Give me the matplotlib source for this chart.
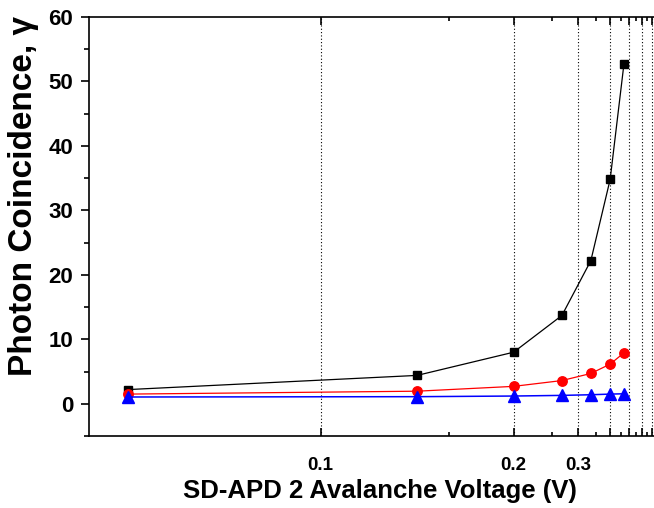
import numpy as np
import matplotlib
matplotlib.use("Agg")
import matplotlib.pyplot as plt
from matplotlib.ticker import FixedLocator, FixedFormatter, MultipleLocator

# avalanche voltage of SD-APD 2 (V)
voltage = [0.0667, 0.1333, 0.2, 0.2667, 0.3333, 0.4, 0.4667]
# photon coincidence for the three data sets
gamma_black = [2.2, 4.4, 8.0, 13.7, 22.2, 34.8, 52.7]
gamma_red = [1.5, 1.95, 2.7, 3.6, 4.7, 6.15, 7.9]
gamma_blue = [1.05, 1.1, 1.2, 1.3, 1.4, 1.5, 1.55]

major_x = [0.1, 0.2, 0.3, 0.4, 0.5, 0.6, 0.7]
major_x_labels = ["0.1", "0.2", "0.3", "", "", "", ""]
minor_x = [0.15, 0.25, 0.35, 0.45, 0.55, 0.65]

plt.rcParams["font.family"] = ["Liberation Sans", "DejaVu Sans"]
plt.rcParams["font.weight"] = "bold"


def fwd(x):
    x = np.asarray(x, dtype=float)
    return -1.0 / np.where(x > 0, x, 1e-9)


def inv(y):
    y = np.asarray(y, dtype=float)
    return -1.0 / np.where(y < 0, y, -1e-9)


fig = plt.figure(figsize=(6.54, 5.08), dpi=100)
ax = fig.add_axes([89 / 654, 1 - 436 / 508, 569.4 / 654, 419 / 508])
ax.set_xscale("function", functions=(fwd, inv))
ax.set_xlim(0.0625, 0.8)
ax.set_ylim(-5, 60)

# vertical dotted grid at the major voltage ticks
for v in major_x:
    ax.axvline(v, color="black", lw=0.8, ls=(0, (1, 2)), zorder=0)

ax.plot(voltage, gamma_black, color="black", lw=0.9, marker="s", ms=6,
        mfc="black", mec="black", zorder=3)
ax.plot(voltage, gamma_red, color="red", lw=0.9, marker="o", ms=6.8,
        mfc="red", mec="red", zorder=3)
ax.plot(voltage, gamma_blue, color="blue", lw=1.1, marker="^", ms=8,
        mfc="blue", mec="blue", zorder=3)

ax.xaxis.set_major_locator(FixedLocator(major_x))
ax.xaxis.set_major_formatter(FixedFormatter(major_x_labels))
ax.xaxis.set_minor_locator(FixedLocator(minor_x))
ax.yaxis.set_major_locator(MultipleLocator(10))
ax.yaxis.set_minor_locator(MultipleLocator(5))

ax.tick_params(axis="x", which="both", direction="in", top=True, bottom=True,
               labelsize=13.5, pad=15, width=1.2)
ax.tick_params(axis="x", which="major", length=6)
ax.tick_params(axis="x", which="minor", length=3)
ax.tick_params(axis="y", which="both", direction="out", left=True, right=False,
               labelsize=16, pad=5.5, width=1.2)
ax.tick_params(axis="y", which="major", length=6)
ax.tick_params(axis="y", which="minor", length=3.5)
for lab in ax.get_xticklabels() + ax.get_yticklabels():
    lab.set_fontweight("bold")

for s in ax.spines.values():
    s.set_linewidth(1.2)

fig.text(380 / 654, 1 - 491 / 508, "SD-APD 2 Avalanche Voltage (V)",
         ha="center", va="center", fontsize=18.5, fontweight="bold")
fig.text(24 / 654, 1 - 196 / 508, "Photon Coincidence, γ", rotation=90,
         ha="center", va="center", fontsize=24, fontweight="bold")

fig.savefig("out.png", dpi=100)
